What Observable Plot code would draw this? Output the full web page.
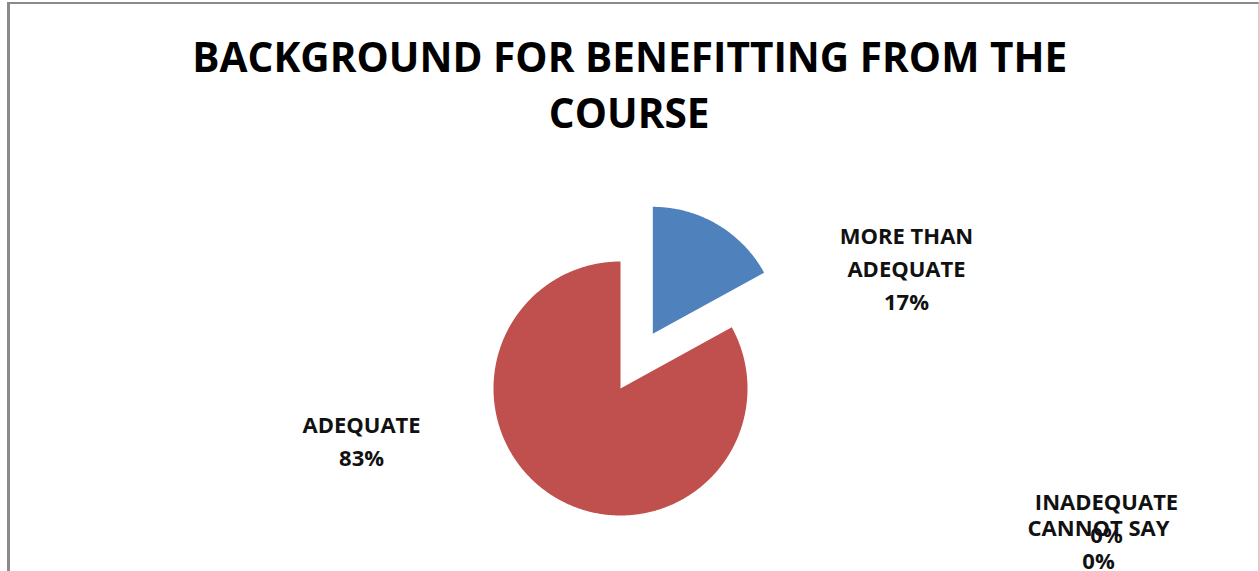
<!DOCTYPE html>
<html>
<head>
<meta charset="utf-8">
<script src="https://cdn.jsdelivr.net/npm/d3@7"></script>
<script src="https://cdn.jsdelivr.net/npm/@observablehq/plot@0.6"></script>
<style>
  html, body { margin: 0; padding: 0; background: #fff; }
  #page { position: relative; width: 1259px; height: 571px; overflow: hidden; background: #fff; }
  #frame { position: absolute; left: 7px; top: 2px; width: 1248px; height: 600px;
           border-left: 3px solid #8a8a8a; border-top: 2px solid #8a8a8a; border-right: 1px solid #d0d0d0; }
  #title { position: absolute; left: 0; top: 28px; width: 1259px; text-align: center;
           font-family: "Open Sans", sans-serif; font-weight: 700; font-size: 42px; line-height: 56px; color: #000; }
  #title span { display: inline-block; white-space: nowrap; transform-origin: 50% 50%; }
  #chart { position: absolute; left: 0; top: 150px; }
</style>
</head>
<body>
<div id="page">
  <div id="frame"></div>
  <div id="title"><span id="t1">BACKGROUND FOR BENEFITTING FROM THE</span><br><span id="t2">COURSE</span></div>
  <div id="chart"></div>
</div>
<script>
// ---- data ----
const categories = ["MORE THAN ADEQUATE", "ADEQUATE", "INADEQUATE", "CANNOT SAY"];
const values = [17, 83, 0, 0];
const labelText = ["MORE THAN\nADEQUATE", "ADEQUATE", "INADEQUATE", "CANNOT SAY"];

// ---- style / layout ----
const colors = ["#4F81BD", "#C0504D", "#9BBB59", "#8064A2"];
const explode = [0.5, 0, 0, 0];               // in radius units
const labelOffsets = [[2.252, 0.961], [-2.039, -0.398], [3.827, -1.004], [3.764, -1.209]]; // radius units from centre
const W = 1259, H = 421, R = 127, CX = 620, CY = 238;

// scale title lines to the reference width
const t1 = document.getElementById("t1"), t2 = document.getElementById("t2");
const s = 875 / t1.getBoundingClientRect().width;
t1.style.transform = `scaleX(${s})`;
t2.style.transform = `scaleX(${s})`;

const total = d3.sum(values);
const arcs = d3.pie().sort(null).value(d => d)(values);
const pts = [];
arcs.forEach((a, i) => {
  const a0 = a.startAngle, a1 = a.endAngle;
  if (a1 - a0 <= 0) return;
  const mid = (a0 + a1) / 2;
  const ox = explode[i] * Math.sin(mid), oy = explode[i] * Math.cos(mid);
  const cat = categories[i];
  pts.push({cat, x: ox, y: oy});
  const n = Math.max(2, Math.ceil((a1 - a0) / (Math.PI / 360)));
  for (let k = 0; k <= n; k++) {
    const t = a0 + (a1 - a0) * k / n;
    pts.push({cat, x: ox + Math.sin(t), y: oy + Math.cos(t)});
  }
  pts.push({cat, x: ox, y: oy});
});

const labels = categories.map((c, i) => ({
  cat: c,
  text: `${labelText[i]}\n${Math.round(values[i] / total * 100)}%`,
  x: labelOffsets[i][0],
  y: labelOffsets[i][1]
}));

const chart = Plot.plot({
  width: W,
  height: H,
  margin: 0,
  x: {domain: [-CX / R, (W - CX) / R], axis: null},
  y: {domain: [-(H - CY) / R, CY / R], axis: null},
  color: {domain: categories, range: colors},
  style: {fontFamily: "'Open Sans', sans-serif", background: "transparent"},
  marks: [
    Plot.line(pts, {x: "x", y: "y", z: "cat", fill: "cat", stroke: "none"}),
    Plot.text(labels, {x: "x", y: "y", text: "text", fontSize: 22, fontWeight: 700, lineHeight: 1.5, fill: "#111", textAnchor: "middle"})
  ]
});
document.getElementById("chart").appendChild(chart);
</script>
</body>
</html>
